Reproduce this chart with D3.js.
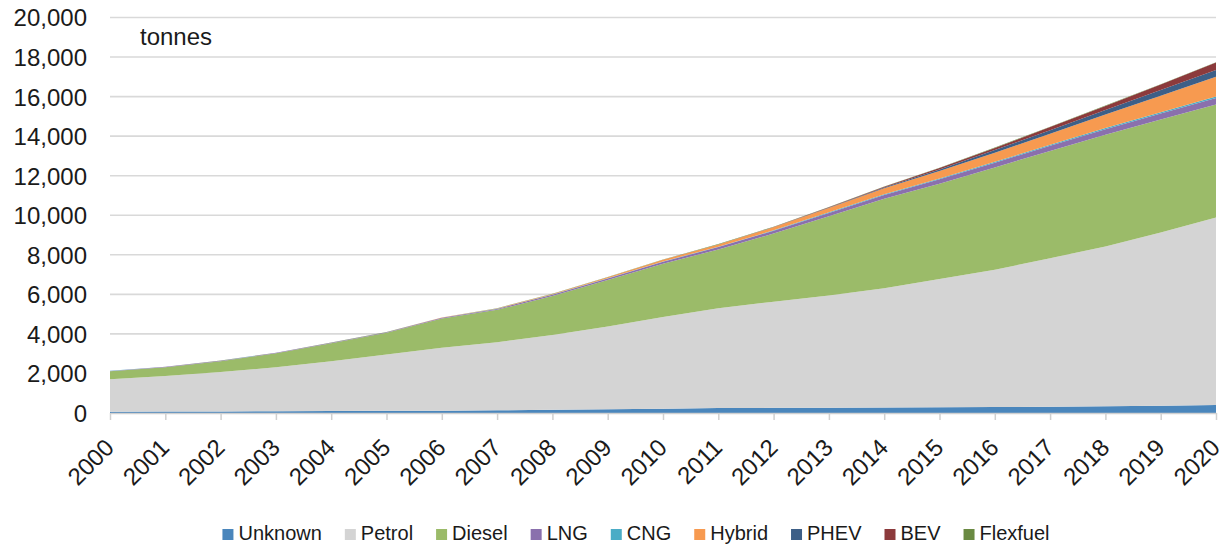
<!DOCTYPE html>
<html>
<head>
<meta charset="utf-8">
<script src="https://cdn.jsdelivr.net/npm/d3@7"></script>
<style>
  html, body { margin: 0; padding: 0; background: #ffffff; }
  svg { display: block; font-family: "Liberation Sans", Arial, sans-serif; }
</style>
</head>
<body>
<svg id="chart" width="1225" height="544"></svg>
<script>
// Annual quantities in tonnes, stacked by fuel type
const years = [2000, 2001, 2002, 2003, 2004, 2005, 2006, 2007, 2008, 2009, 2010,
               2011, 2012, 2013, 2014, 2015, 2016, 2017, 2018, 2019, 2020];

const unknown  = [60, 70, 80, 90, 100, 110, 120, 140, 160, 190, 220,
                  250, 260, 270, 280, 290, 300, 320, 340, 370, 400];
const petrol   = [1645, 1803, 1996, 2222, 2516, 2843, 3180, 3440, 3790, 4180, 4640,
                  5050, 5370, 5670, 6030, 6480, 6940, 7510, 8080, 8760, 9490];
const diesel   = [410, 445, 545, 710, 910, 1100, 1475, 1635, 1970, 2350, 2685,
                  2970, 3445, 4010, 4520, 4825, 5180, 5420, 5650, 5710, 5710];
const lng      = [15, 15, 20, 20, 25, 30, 40, 50, 60, 80, 100,
                  120, 140, 170, 200, 220, 240, 260, 280, 300, 330];
const cng      = [5, 5, 5, 5, 5, 5, 5, 10, 10, 15, 20,
                  20, 25, 30, 35, 40, 45, 50, 60, 70, 80];
const hybrid   = [0, 0, 0, 0, 0, 0, 5, 15, 30, 55, 80,
                  110, 150, 220, 300, 380, 460, 560, 680, 830, 1000];
const phev     = [0, 0, 0, 0, 0, 0, 0, 0, 0, 0, 0,
                  0, 5, 15, 40, 80, 130, 180, 230, 290, 340];
const bev      = [0, 0, 0, 0, 0, 0, 0, 0, 0, 0, 5,
                  5, 10, 20, 40, 70, 110, 160, 210, 280, 370];
const flexfuel = [5, 5, 5, 5, 5, 5, 5, 10, 10, 10, 10,
                  15, 15, 15, 15, 15, 15, 15, 15, 15, 20];

const seriesNames = ["Unknown", "Petrol", "Diesel", "LNG", "CNG", "Hybrid", "PHEV", "BEV", "Flexfuel"];
const seriesValues = [unknown, petrol, diesel, lng, cng, hybrid, phev, bev, flexfuel];
const seriesColors = ["#4a86bc", "#d4d4d4", "#9bbb69", "#8a70ad", "#4bacc6", "#f79a50", "#3d5f87", "#8c3a3c", "#6a8a42"];

const yTicks = [0, 2000, 4000, 6000, 8000, 10000, 12000, 14000, 16000, 18000, 20000];
const unitLabel = "tonnes";

// Table for d3.stack
const rows = years.map((yr, i) => {
  const r = { year: yr };
  seriesNames.forEach((n, k) => { r[n] = seriesValues[k][i]; });
  return r;
});

const svg = d3.select("#chart");
const plotLeft = 110, plotRight = 1216, plotTop = 17.5, plotBottom = 413;

const x = d3.scaleLinear().domain([years[0], years[years.length - 1]]).range([plotLeft, plotRight]);
const y = d3.scaleLinear().domain([0, 20000]).range([plotBottom, plotTop]);

// Horizontal gridlines
svg.append("g")
  .selectAll("line")
  .data(yTicks.filter(d => d > 0))
  .join("line")
  .attr("x1", plotLeft).attr("x2", plotRight)
  .attr("y1", d => y(d)).attr("y2", d => y(d))
  .attr("stroke", "#d9d9d9")
  .attr("stroke-width", 1.6);

// Stacked areas
const stack = d3.stack().keys(seriesNames);
const layers = stack(rows);
const area = d3.area()
  .x(d => x(d.data.year))
  .y0(d => y(d[0]))
  .y1(d => y(d[1]))
  .curve(d3.curveLinear);

svg.append("g")
  .selectAll("path")
  .data(layers)
  .join("path")
  .attr("d", area)
  .attr("fill", (d, i) => seriesColors[i]);

// Category axis along zero
const xAxis = d3.axisBottom(x)
  .tickValues(years)
  .tickFormat(d3.format("d"))
  .tickSize(7)
  .tickSizeOuter(0);

const gx = svg.append("g")
  .attr("transform", `translate(0,${plotBottom})`)
  .call(xAxis);
gx.select(".domain").attr("stroke", "#d0d0d0").attr("stroke-width", 1.5);
gx.selectAll(".tick line").attr("stroke", "#d0d0d0").attr("stroke-width", 1.5);
gx.selectAll(".tick text")
  .attr("font-size", 24)
  .attr("fill", "#1a1a1a")
  .attr("font-family", "'Liberation Sans', Arial, sans-serif")
  .attr("text-anchor", "end")
  .attr("y", 0)
  .attr("dy", 0)
  .attr("transform", "translate(5,36) rotate(-45)");

// Value axis labels
const yAxis = d3.axisLeft(y)
  .tickValues(yTicks)
  .tickFormat(d3.format(","))
  .tickSize(0)
  .tickPadding(0);
const gy = svg.append("g")
  .attr("transform", `translate(87,0)`)
  .call(yAxis);
gy.select(".domain").remove();
gy.selectAll(".tick text")
  .attr("font-size", 24)
  .attr("fill", "#1a1a1a")
  .attr("font-family", "'Liberation Sans', Arial, sans-serif")
  .attr("x", 0)
  .attr("dy", "0.35em");

// Unit label
svg.append("text")
  .attr("x", 140)
  .attr("y", 45)
  .attr("font-size", 24)
  .attr("fill", "#1a1a1a")
  .text(unitLabel);

// Legend
const legend = svg.append("g");
const itemGap = 23, swatch = 11, textOffset = 16;
let cx = 0;
seriesNames.forEach((n, i) => {
  const g = legend.append("g");
  g.append("rect")
    .attr("x", 0).attr("y", -11)
    .attr("width", swatch).attr("height", swatch)
    .attr("fill", seriesColors[i]);
  const t = g.append("text")
    .attr("x", textOffset).attr("y", 0)
    .attr("font-size", 20)
    .attr("fill", "#1a1a1a")
    .text(n);
  const w = t.node().getComputedTextLength();
  g.attr("transform", `translate(${cx},0)`);
  cx += textOffset + w + itemGap;
});
const totalW = cx - itemGap;
legend.attr("transform", `translate(${636 - totalW / 2},540)`);
</script>
</body>
</html>
